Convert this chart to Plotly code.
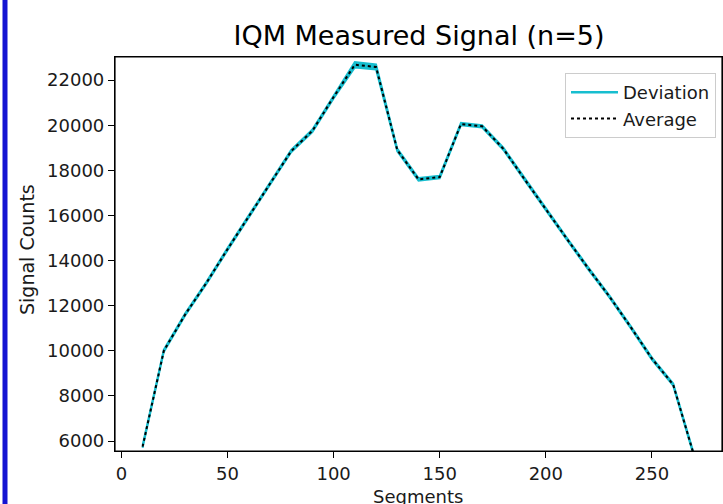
import plotly.graph_objects as go

segments = [10, 20, 30, 40, 50, 60, 70, 80, 90, 100, 110, 120, 130, 140, 150,
            160, 170, 180, 190, 200, 210, 220, 230, 240, 250, 260, 270]
average = [5750, 10000, 11600, 13000, 14500, 15950, 17400, 18850, 19750, 21250,
           22680, 22580, 18900, 17600, 17700, 20050, 19950, 18950, 17600, 16250,
           14950, 13650, 12400, 11050, 9650, 8500, 5300]
deviation = [50, 50, 50, 50, 50, 50, 50, 50, 60, 60,
             120, 110, 60, 60, 60, 50, 50, 50, 50, 50,
             50, 50, 50, 50, 50, 50, 50]

x_ticks = [0, 50, 100, 150, 200, 250]
y_ticks = [6000, 8000, 10000, 12000, 14000, 16000, 18000, 20000, 22000]

upper = [a + d for a, d in zip(average, deviation)]
lower = [a - d for a, d in zip(average, deviation)]

CYAN = "#17becf"
FONT = "DejaVu Sans"

fig = go.Figure()
fig.add_trace(go.Scatter(x=segments, y=lower, mode="lines",
                         line=dict(color=CYAN, width=2), showlegend=False,
                         hoverinfo="skip"))
fig.add_trace(go.Scatter(x=segments, y=upper, mode="lines", fill="tonexty",
                         fillcolor=CYAN, line=dict(color=CYAN, width=2),
                         showlegend=False))
# legend entry for the deviation band, drawn as a plain line like the reference
fig.add_trace(go.Scatter(x=[None], y=[None], mode="lines",
                         line=dict(color=CYAN, width=2.5), name="Deviation"))
fig.add_trace(go.Scatter(x=segments, y=average, mode="lines",
                         line=dict(color="black", width=2, dash="dot"),
                         name="Average"))

L, R, T, B = 115, 1, 57, 53
W, H = 723, 504
pw, ph = W - L - R, H - T - B

def px_x(p):
    return (p - L) / pw

def px_y(p):
    return (H - B - p) / ph

axis_common = dict(showgrid=False, zeroline=False, showline=True, mirror=True,
                   linecolor="black", linewidth=1.2, ticks="outside", ticklen=6,
                   tickwidth=1.2, tickcolor="black", tickformat="d",
                   tickfont=dict(family=FONT, size=18, color="#1a1a1a"))

fig.update_layout(
    width=W, height=H,
    margin=dict(l=L, r=R, t=T, b=B),
    paper_bgcolor="white", plot_bgcolor="white",
    xaxis=dict(range=[-3, 283], tickvals=x_ticks, **axis_common),
    yaxis=dict(range=[5557, 23023], tickvals=y_ticks, **axis_common),
    title=dict(text="IQM Measured Signal (n=5)", x=px_x(419), xref="paper",
               y=1 - 36 / H, yref="container", xanchor="center", yanchor="middle",
               font=dict(family=FONT, size=27, color="black")),
    legend=dict(x=px_x(565), y=px_y(73), xanchor="left", yanchor="top",
                traceorder="normal", itemwidth=47,
                bordercolor="#cccccc", borderwidth=1, bgcolor="white",
                font=dict(family=FONT, size=18, color="#1a1a1a")),
    annotations=[
        dict(text="Signal Counts", xref="paper", yref="paper",
             x=px_x(27), y=px_y(250), textangle=-90, showarrow=False,
             xanchor="center", yanchor="middle",
             font=dict(family=FONT, size=19, color="#1a1a1a")),
        dict(text="Segments", xref="paper", yref="paper",
             x=px_x(418), y=px_y(484), showarrow=False,
             xanchor="center", yanchor="top",
             font=dict(family=FONT, size=18, color="#1a1a1a")),
    ],
    shapes=[
        dict(type="rect", xref="paper", yref="paper",
             x0=px_x(2.5), x1=px_x(7.5), y0=px_y(H + 5), y1=px_y(-5),
             fillcolor="#1414d2", line=dict(width=0), layer="above"),
        dict(type="rect", xref="paper", yref="paper", x0=0, x1=1, y0=0, y1=1,
             line=dict(color="black", width=1.2), fillcolor="rgba(0,0,0,0)",
             layer="above"),
    ],
)

fig.write_html("out.html",
               config={"displayModeBar": False},
               post_script="document.body.style.margin='0';"
                           "document.body.style.overflow='hidden';")
